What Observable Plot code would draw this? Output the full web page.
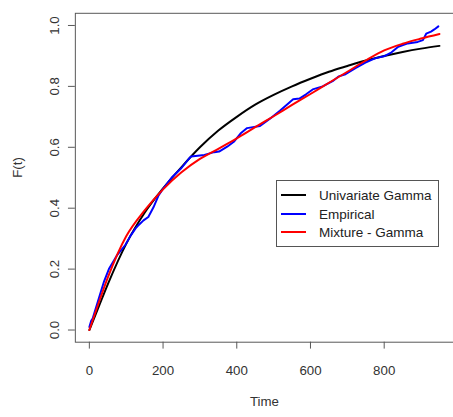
<!DOCTYPE html>
<html>
<head>
<meta charset="utf-8">
<script src="https://cdn.jsdelivr.net/npm/d3@7"></script>
<script src="https://cdn.jsdelivr.net/npm/@observablehq/plot@0.6"></script>
<style>
  html, body { margin: 0; padding: 0; background: #fff; }
  #wrap { position: relative; width: 453px; height: 417px; overflow: hidden; font-family: "Liberation Sans", Arial, sans-serif; }
  #legend { position: absolute; left: 276px; top: 180px; width: 163px; height: 67px; border: 1px solid #555; background: #fff; box-sizing: border-box; }
  .row { position: absolute; left: 0; height: 0; }
  .sw { position: absolute; left: 4px; width: 25px; height: 0; border-top: 2px solid; }
  .lb { position: absolute; left: 42px; font-size: 13.5px; color: #222; white-space: nowrap; transform: translateY(-50%); }
</style>
</head>
<body>
<div id="wrap"></div>
<script>
// Fitted model curves sampled at these times
const modelTimes = [0, 25, 50, 100, 150, 200, 250, 300, 350, 400, 450, 500, 550, 600, 650, 700, 750, 800, 850, 900, 950];
const univariateGamma = [0, 0.075, 0.15, 0.283, 0.385, 0.465, 0.535, 0.60, 0.655, 0.70, 0.74, 0.772, 0.80, 0.825, 0.848, 0.867, 0.885, 0.90, 0.913, 0.924, 0.933];
const mixtureGamma = [0, 0.088, 0.172, 0.308, 0.393, 0.462, 0.518, 0.562, 0.595, 0.629, 0.666, 0.702, 0.739, 0.775, 0.812, 0.848, 0.885, 0.918, 0.94, 0.957, 0.972];

// Empirical CDF
const empiricalTimes = [0, 5, 9, 31, 40, 53, 76, 98, 112, 125, 134, 147, 160, 174, 187, 199, 223, 250, 272, 276, 312, 339, 352, 374, 392, 410, 428, 463, 490, 517, 553, 570, 588, 606, 633, 660, 677, 695, 722, 749, 775, 802, 820, 838, 864, 891, 905, 914, 927, 936, 947];
const empiricalF = [0.01, 0.03, 0.038, 0.125, 0.16, 0.2, 0.247, 0.28, 0.31, 0.333, 0.345, 0.36, 0.371, 0.403, 0.44, 0.462, 0.5, 0.532, 0.565, 0.57, 0.575, 0.584, 0.586, 0.602, 0.618, 0.645, 0.663, 0.67, 0.694, 0.72, 0.758, 0.76, 0.774, 0.79, 0.80, 0.817, 0.833, 0.84, 0.86, 0.878, 0.892, 0.9, 0.912, 0.93, 0.941, 0.946, 0.952, 0.973, 0.98, 0.987, 0.997];

const xTicks = [0, 200, 400, 600, 800];
const yTicks = [0, 0.2, 0.4, 0.6, 0.8, 1.0];

const seriesNames = ["Univariate Gamma", "Empirical", "Mixture - Gamma"];
const seriesColors = ["#000000", "#0000ff", "#ff0000"];

const uni = modelTimes.map((t, i) => ({t, F: univariateGamma[i]}));
const mix = modelTimes.map((t, i) => ({t, F: mixtureGamma[i]}));
const emp = empiricalTimes.map((t, i) => ({t, F: empiricalF[i]}));

const font = "Liberation Sans, Arial, sans-serif";

const chart = Plot.plot({
  width: 460,
  height: 417,
  marginLeft: 76,
  marginRight: 0,
  marginTop: 13,
  marginBottom: 70,
  style: {fontFamily: font, fontSize: "13.5px", color: "#333", background: "#fff"},
  x: {domain: [-38, 988]},
  y: {domain: [-0.04, 1.04]},
  marks: [
    Plot.frame({stroke: "#555"}),
    Plot.axisX({ticks: xTicks, tickSize: 7, tickPadding: 17, stroke: "#555", fill: "#333", label: null, tickFormat: d => String(d)}),
    Plot.axisY({ticks: yTicks, tickSize: 7, tickPadding: 10, tickRotate: -90, stroke: "#555", fill: "#333", label: null, tickFormat: d3.format(".1f")}),
    Plot.text(["Time"], {frameAnchor: "bottom", lineAnchor: "middle", dy: 60, fill: "#333", fontSize: 13.5}),
    Plot.text(["F(t)"], {frameAnchor: "left", lineAnchor: "middle", dx: -58, rotate: -90, fill: "#333", fontSize: 13.5}),
    Plot.line(uni, {x: "t", y: "F", stroke: seriesColors[0], strokeWidth: 2, curve: "monotone-x"}),
    Plot.line(emp, {x: "t", y: "F", stroke: seriesColors[1], strokeWidth: 2}),
    Plot.line(mix, {x: "t", y: "F", stroke: seriesColors[2], strokeWidth: 2, curve: "monotone-x"})
  ]
});

const wrap = document.getElementById("wrap");
wrap.appendChild(chart);

// legend (inside the plot region, as in the reference)
const legend = document.createElement("div");
legend.id = "legend";
const rowY = [14, 33, 51];
seriesNames.forEach((name, i) => {
  const row = document.createElement("div");
  row.className = "row";
  row.style.top = rowY[i] + "px";
  const sw = document.createElement("div");
  sw.className = "sw";
  sw.style.borderTopColor = seriesColors[i];
  sw.style.top = "-1px";
  const lb = document.createElement("div");
  lb.className = "lb";
  lb.textContent = name;
  row.appendChild(sw);
  row.appendChild(lb);
  legend.appendChild(row);
});
wrap.appendChild(legend);
</script>
</body>
</html>
